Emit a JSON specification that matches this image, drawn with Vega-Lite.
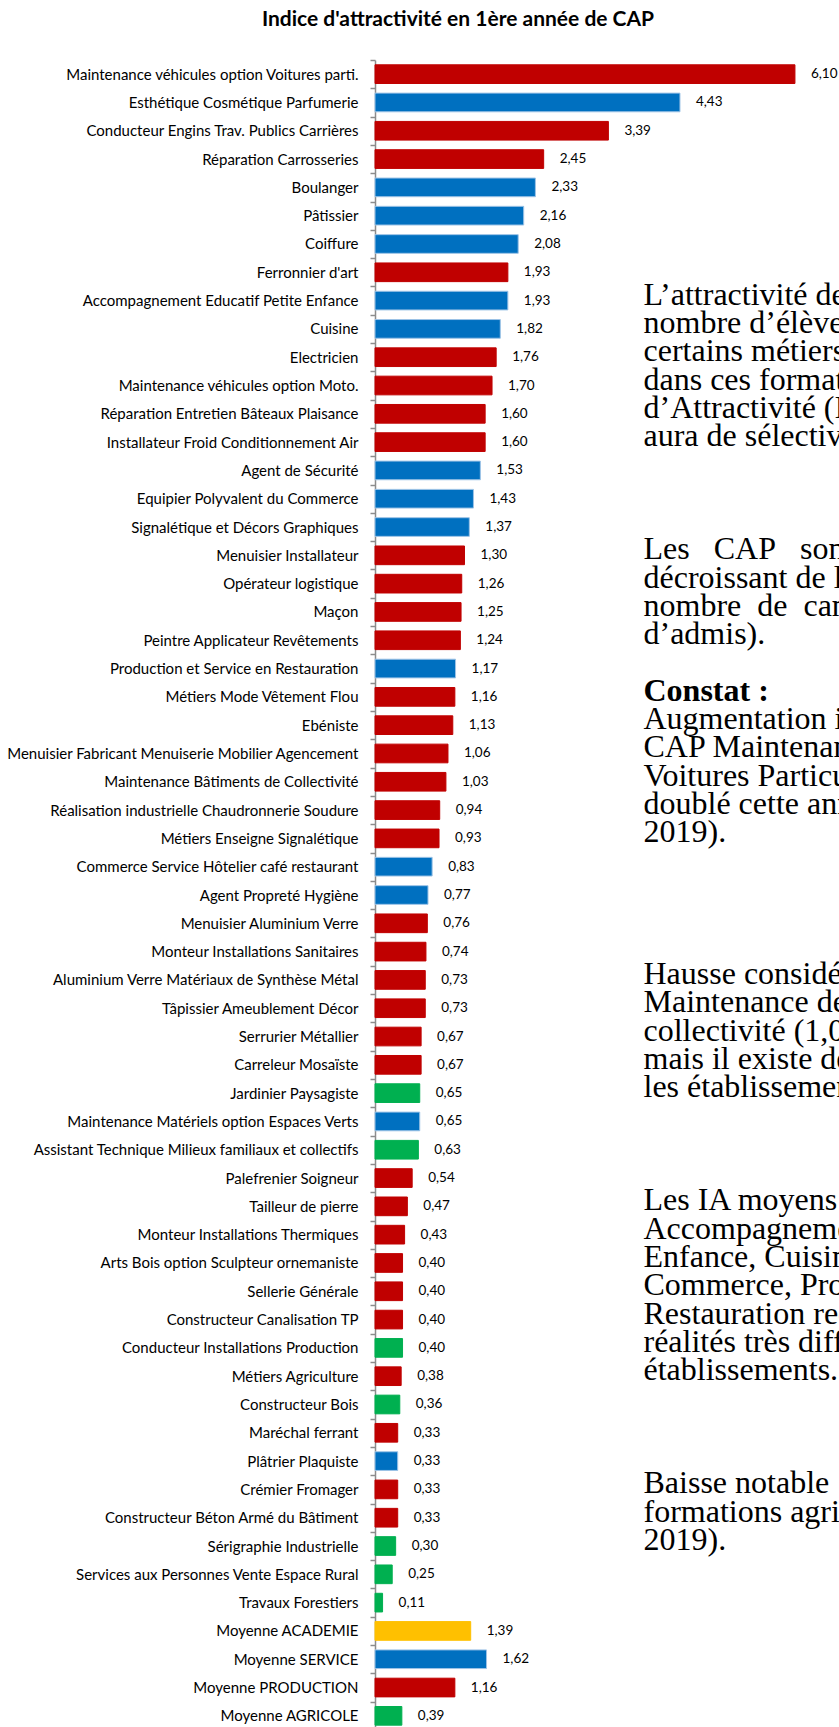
{
  "$schema": "https://vega.github.io/schema/vega-lite/v6.json",
  "width": 464,
  "height": 1670,
  "padding": {"left": 5, "top": 9, "right": 0, "bottom": 0},
  "autosize": {"type": "pad"},
  "background": "white",
  "title": {"text": "Indice d'attractivité en 1ère année de CAP", "font": "Lato", "fontSize": 21, "fontWeight": "bold", "color": "#000000", "anchor": "middle", "frame": "group", "dx": -149, "offset": 23},
  "config": {
    "view": {"stroke": null},
    "locale": {"number": {"decimal": ",", "thousands": " ", "grouping": [3], "currency": ["", " €"]}}
  },
  "data": {"values": [
    {"cat": "Maintenance véhicules option Voitures parti.", "value": 6.10, "f": "Production"},
    {"cat": "Esthétique Cosmétique Parfumerie", "value": 4.43, "f": "Service"},
    {"cat": "Conducteur Engins Trav. Publics Carrières", "value": 3.39, "f": "Production"},
    {"cat": "Réparation Carrosseries", "value": 2.45, "f": "Production"},
    {"cat": "Boulanger", "value": 2.33, "f": "Service"},
    {"cat": "Pâtissier", "value": 2.16, "f": "Service"},
    {"cat": "Coiffure", "value": 2.08, "f": "Service"},
    {"cat": "Ferronnier d'art", "value": 1.93, "f": "Production"},
    {"cat": "Accompagnement Educatif Petite Enfance", "value": 1.93, "f": "Service", "note": "L’attractivité des"},
    {"cat": "Cuisine", "value": 1.82, "f": "Service", "note": "nombre d’élèves"},
    {"cat": "Electricien", "value": 1.76, "f": "Production", "note": "certains métiers"},
    {"cat": "Maintenance véhicules option Moto.", "value": 1.70, "f": "Production", "note": "dans ces formations"},
    {"cat": "Réparation Entretien Bâteaux Plaisance", "value": 1.60, "f": "Production", "note": "d’Attractivité (IA)"},
    {"cat": "Installateur Froid Conditionnement Air", "value": 1.60, "f": "Production", "note": "aura de sélectivité."},
    {"cat": "Agent de Sécurité", "value": 1.53, "f": "Service"},
    {"cat": "Equipier Polyvalent du Commerce", "value": 1.43, "f": "Service"},
    {"cat": "Signalétique et Décors Graphiques", "value": 1.37, "f": "Service"},
    {"cat": "Menuisier Installateur", "value": 1.30, "f": "Production", "note": "Les\u00a0\u00a0\u00a0CAP\u00a0\u00a0\u00a0sont"},
    {"cat": "Opérateur logistique", "value": 1.26, "f": "Production", "note": "décroissant de l’IA"},
    {"cat": "Maçon", "value": 1.25, "f": "Production", "note": "nombre\u00a0\u00a0de\u00a0\u00a0candidats"},
    {"cat": "Peintre Applicateur Revêtements", "value": 1.24, "f": "Production", "note": "d’admis)."},
    {"cat": "Production et Service en Restauration", "value": 1.17, "f": "Service"},
    {"cat": "Métiers Mode Vêtement Flou", "value": 1.16, "f": "Production", "note": "Constat :"},
    {"cat": "Ebéniste", "value": 1.13, "f": "Production", "note": "Augmentation importante"},
    {"cat": "Menuisier Fabricant Menuiserie Mobilier Agencement", "value": 1.06, "f": "Production", "note": "CAP Maintenance"},
    {"cat": "Maintenance Bâtiments de Collectivité", "value": 1.03, "f": "Production", "note": "Voitures Particulières"},
    {"cat": "Réalisation industrielle Chaudronnerie Soudure", "value": 0.94, "f": "Production", "note": "doublé cette année"},
    {"cat": "Métiers Enseigne Signalétique", "value": 0.93, "f": "Production", "note": "2019)."},
    {"cat": "Commerce Service Hôtelier café restaurant", "value": 0.83, "f": "Service"},
    {"cat": "Agent Propreté Hygiène", "value": 0.77, "f": "Service"},
    {"cat": "Menuisier Aluminium Verre", "value": 0.76, "f": "Production"},
    {"cat": "Monteur Installations Sanitaires", "value": 0.74, "f": "Production"},
    {"cat": "Aluminium Verre Matériaux de Synthèse Métal", "value": 0.73, "f": "Production", "note": "Hausse considérable"},
    {"cat": "Tâpissier Ameublement Décor", "value": 0.73, "f": "Production", "note": "Maintenance des"},
    {"cat": "Serrurier Métallier", "value": 0.67, "f": "Production", "note": "collectivité (1,03"},
    {"cat": "Carreleur Mosaïste", "value": 0.67, "f": "Production", "note": "mais il existe des"},
    {"cat": "Jardinier Paysagiste", "value": 0.65, "f": "Agricole", "note": "les établissements"},
    {"cat": "Maintenance Matériels option Espaces Verts", "value": 0.65, "f": "Service"},
    {"cat": "Assistant Technique Milieux familiaux et collectifs", "value": 0.63, "f": "Agricole"},
    {"cat": "Palefrenier Soigneur", "value": 0.54, "f": "Production"},
    {"cat": "Tailleur de pierre", "value": 0.47, "f": "Production", "note": "Les IA moyens"},
    {"cat": "Monteur Installations Thermiques", "value": 0.43, "f": "Production", "note": "Accompagnement"},
    {"cat": "Arts Bois option Sculpteur ornemaniste", "value": 0.40, "f": "Production", "note": "Enfance, Cuisine,"},
    {"cat": "Sellerie Générale", "value": 0.40, "f": "Production", "note": "Commerce, Production"},
    {"cat": "Constructeur Canalisation TP", "value": 0.40, "f": "Production", "note": "Restauration recouvrent"},
    {"cat": "Conducteur Installations Production", "value": 0.40, "f": "Agricole", "note": "réalités très différentes"},
    {"cat": "Métiers Agriculture", "value": 0.38, "f": "Production", "note": "établissements."},
    {"cat": "Constructeur Bois", "value": 0.36, "f": "Agricole"},
    {"cat": "Maréchal ferrant", "value": 0.33, "f": "Production"},
    {"cat": "Plâtrier Plaquiste", "value": 0.33, "f": "Service"},
    {"cat": "Crémier Fromager", "value": 0.33, "f": "Production", "note": "Baisse notable"},
    {"cat": "Constructeur Béton Armé du Bâtiment", "value": 0.33, "f": "Production", "note": "formations agricoles"},
    {"cat": "Sérigraphie Industrielle", "value": 0.30, "f": "Agricole", "note": "2019)."},
    {"cat": "Services aux Personnes Vente Espace Rural", "value": 0.25, "f": "Agricole"},
    {"cat": "Travaux Forestiers", "value": 0.11, "f": "Agricole"},
    {"cat": "Moyenne ACADEMIE", "value": 1.39, "f": "Académie"},
    {"cat": "Moyenne SERVICE", "value": 1.62, "f": "Service"},
    {"cat": "Moyenne PRODUCTION", "value": 1.16, "f": "Production"},
    {"cat": "Moyenne AGRICOLE", "value": 0.39, "f": "Agricole"}
  ]},
  "encoding": {
    "y": {
      "field": "cat", "type": "nominal", "sort": null,
      "scale": {"paddingInner": 0, "paddingOuter": 0},
      "axis": {"title": null, "labelFont": "Lato", "labelFontSize": 15, "labelColor": "#000000", "labelPadding": 12, "labelLimit": 400, "tickBand": "extent", "tickSize": 5, "tickColor": "#8c8c8c", "tickWidth": 1.5, "domainColor": "#8c8c8c", "domainWidth": 1.5, "minExtent": 370, "maxExtent": 370, "grid": false}
    }
  },
  "layer": [
    {
      "mark": {"type": "bar", "height": {"band": 0.66}, "strokeWidth": 1},
      "encoding": {
        "x": {"field": "value", "type": "quantitative", "scale": {"domain": [0, 6.74], "nice": false, "zero": true}, "axis": null},
        "color": {"field": "f", "type": "nominal", "scale": {"domain": ["Production", "Service", "Agricole", "Académie"], "range": ["#C00000", "#0070C0", "#00B050", "#FFC000"]}, "legend": null},
        "stroke": {"field": "f", "type": "nominal", "scale": {"domain": ["Production", "Service", "Agricole", "Académie"], "range": ["#C00000", "#9DC3E6", "#00B050", "#FFC000"]}, "legend": null}
      }
    },
    {
      "mark": {"type": "text", "align": "left", "baseline": "middle", "dx": 16, "font": "Lato", "fontSize": 13.5, "color": "#000000"},
      "encoding": {
        "x": {"field": "value", "type": "quantitative"},
        "text": {"field": "value", "type": "quantitative", "format": ".2f"}
      }
    },
    {
      "transform": [{"filter": "datum.note && datum.note !== 'Constat :'"}],
      "mark": {"type": "text", "align": "left", "baseline": "alphabetic", "dy": 4, "font": "Liberation Serif", "fontSize": 32, "color": "#000000", "clip": true},
      "encoding": {
        "x": {"datum": 3.9},
        "text": {"field": "note"}
      }
    },
    {
      "transform": [{"filter": "datum.note === 'Constat :'"}],
      "mark": {"type": "text", "align": "left", "baseline": "alphabetic", "dy": 4, "font": "Liberation Serif", "fontSize": 32, "fontWeight": "bold", "color": "#000000", "clip": true},
      "encoding": {
        "x": {"datum": 3.9},
        "text": {"field": "note"}
      }
    }
  ]
}
